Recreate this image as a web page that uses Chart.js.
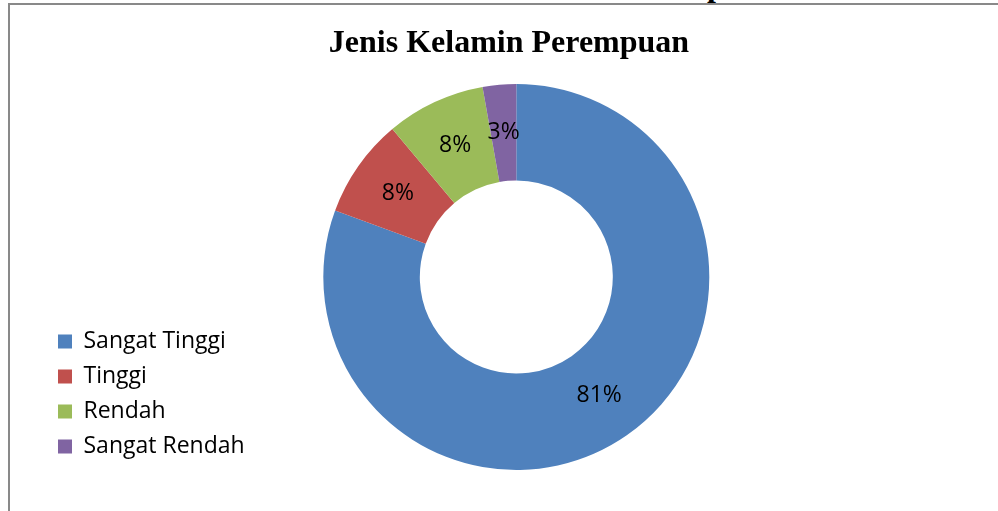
<!DOCTYPE html>
<html>
<head>
<meta charset="utf-8">
<script src="https://cdn.jsdelivr.net/npm/chart.js@4.4.1/dist/chart.umd.min.js"></script>
<style>
  html, body { margin: 0; padding: 0; background: #fff; overflow: hidden; }
  #wrap { position: relative; width: 998px; height: 511px; overflow: hidden; }
  #cut { position: absolute; left: 707px; top: -31px; font: bold 32px/32px "Liberation Serif"; color: #000; }
  #frame { position: absolute; left: 8px; top: 3px; width: 1200px; height: 600px;
           border-top: 2px solid #898989; border-left: 2px solid #898989; }
  canvas { position: absolute; left: 0; top: 0; }
</style>
</head>
<body>
<div id="wrap">
  <div id="cut">p</div>
  <div id="frame"></div>
  <canvas id="ringChart" width="998" height="511"></canvas>
</div>
<script>
const categories = ['Sangat Tinggi', 'Tinggi', 'Rendah', 'Sangat Rendah'];
const shares = [80.6, 8.3, 8.3, 2.8];
const shareLabels = ['81%', '8%', '8%', '3%'];
const sliceColors = ['#4F81BD', '#C0504D', '#9BBB59', '#8064A2'];

// percentage text in the middle of each slice
const sliceLabels = {
    id: 'sliceLabels',
    afterDatasetsDraw(chart) {
        const ctx = chart.ctx;
        const meta = chart.getDatasetMeta(0);
        ctx.save();
        ctx.font = '23px "Open Sans"';
        ctx.fillStyle = '#000';
        ctx.textAlign = 'center';
        ctx.textBaseline = 'middle';
        meta.data.forEach((arc, i) => {
            const p = arc.getCenterPoint();
            ctx.fillText(shareLabels[i], p.x, p.y);
        });
        ctx.restore();
    }
};

// title is centred on the whole frame (which runs past the right edge), not on the ring
const frameTitle = {
    id: 'frameTitle',
    afterLayout(chart) {
        const t = chart.titleBlock;
        t.left = 10;
        t.right = 1008;
        t.width = t.right - t.left;
    }
};

const ctx = document.getElementById('ringChart').getContext('2d');

const chart = new Chart(ctx, {
    type: 'doughnut',
    data: {
        labels: categories,
        datasets: [{
            data: shares,
            backgroundColor: sliceColors,
            borderWidth: 0
        }]
    },
    options: {
        responsive: false,
        animation: false,
        cutout: '50%',
        layout: {
            padding: { left: 46, right: 220, top: 0, bottom: 41 }
        },
        plugins: {
            title: {
                display: true,
                text: 'Jenis Kelamin Perempuan',
                fullSize: false,
                color: '#000',
                font: { family: 'Liberation Serif', size: 32, weight: 'bold', lineHeight: 1.2 },
                padding: { top: 25, bottom: 20.6 }
            },
            legend: {
                position: 'left',
                align: 'end',
                labels: {
                    color: '#000',
                    font: { family: 'Open Sans', size: 23 },
                    boxWidth: 14,
                    boxHeight: 14,
                    padding: 12
                }
            },
            tooltip: { enabled: false }
        }
    },
    plugins: [sliceLabels, frameTitle]
});
</script>
</body>
</html>
